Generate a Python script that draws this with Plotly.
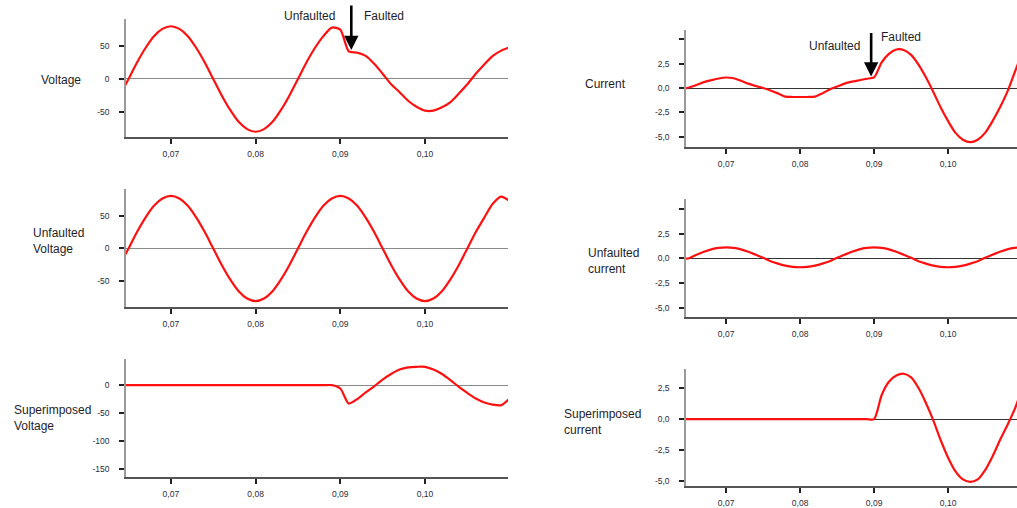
import plotly.graph_objects as go

# Time base (s), 1 ms samples
time_s = [0.0645, 0.065, 0.066, 0.067, 0.068, 0.069, 0.070, 0.071, 0.072, 0.073,
          0.074, 0.075, 0.076, 0.077, 0.078, 0.079, 0.080, 0.081, 0.082, 0.083,
          0.084, 0.085, 0.086, 0.087, 0.088, 0.089, 0.090, 0.091, 0.092, 0.093,
          0.094, 0.095, 0.096, 0.097, 0.098, 0.099, 0.100, 0.101, 0.102, 0.103,
          0.104, 0.105, 0.106, 0.107, 0.108, 0.109, 0.110]

voltage = [-12, 0, 25, 47, 65, 76, 80, 76, 65, 47,
           25, 0, -25, -47, -65, -76, -80, -76, -65, -47,
           -25, 0, 25, 47, 65, 78, 75, 42, 40, 35,
           23, 8, -8, -20, -33, -42, -48, -48, -43, -35,
           -22, -8, 8, 22, 35, 43, 48]

unfaulted_voltage = [-12, 0, 25, 47, 65, 76, 80, 76, 65, 47,
                     25, 0, -25, -47, -65, -76, -80, -76, -65, -47,
                     -25, 0, 25, 47, 65, 76, 80, 76, 65, 47,
                     25, 0, -25, -47, -65, -76, -80, -76, -65, -47,
                     -25, 0, 25, 47, 68, 79, 72]

superimposed_voltage = [0, 0, 0, 0, 0, 0, 0, 0, 0, 0,
                        0, 0, 0, 0, 0, 0, 0, 0, 0, 0,
                        0, 0, 0, 0, 0, 0, -6, -33, -25, -13,
                        -2, 10, 20, 28, 32, 33, 33, 28, 20, 9,
                        -3, -14, -24, -31, -35, -36, -24]

current = [-0.05, 0.05, 0.3, 0.6, 0.8, 0.98, 1.08, 1.0, 0.75, 0.45,
           0.2, 0.0, -0.25, -0.55, -0.88, -0.92, -0.92, -0.92, -0.88, -0.55,
           -0.15, 0.15, 0.45, 0.65, 0.8, 0.95, 1.1, 2.6, 3.5, 3.95,
           3.9, 3.4, 2.4, 1.1, -0.4, -2.0, -3.4, -4.6, -5.3, -5.55,
           -5.3, -4.6, -3.4, -2.0, -0.4, 1.6, 3.6]

unfaulted_current = [-0.05, 0.0, 0.35, 0.65, 0.9, 1.05, 1.1, 1.05, 0.9, 0.65,
                     0.35, 0.05, -0.3, -0.55, -0.75, -0.88, -0.92, -0.88, -0.75, -0.55,
                     -0.3, 0.05, 0.35, 0.65, 0.9, 1.05, 1.1, 1.05, 0.9, 0.65,
                     0.35, 0.05, -0.3, -0.55, -0.75, -0.88, -0.92, -0.88, -0.75, -0.55,
                     -0.3, 0.05, 0.35, 0.65, 0.9, 1.05, 1.1]

superimposed_current = [0, 0, 0, 0, 0, 0, 0, 0, 0, 0,
                        0, 0, 0, 0, 0, 0, 0, 0, 0, 0,
                        0, 0, 0, 0, 0, 0, 0, 1.9, 3.0, 3.5,
                        3.65, 3.35, 2.5, 1.3, -0.1, -1.7, -3.1, -4.2, -4.85, -5.05,
                        -4.85, -4.1, -3.0, -1.7, -0.5, 0.8, 2.5]

# Axis ticks and labels
x_tickvals = [0.07, 0.08, 0.09, 0.10]
x_ticktext = ["0,07", "0,08", "0,09", "0,10"]
v_tickvals = [50, 0, -50]
v_ticktext = ["50", "0", "-50"]
sv_tickvals = [0, -50, -100, -150]
sv_ticktext = ["0", "-50", "-100", "-150"]
i_tickvals = [5, 2.5, 0, -2.5, -5]
i_ticktext = ["", "2,5", "0,0", "-2,5", "-5,0"]
si_tickvals = [2.5, 0, -2.5, -5]
si_ticktext = ["2,5", "0,0", "-2,5", "-5,0"]

row_labels = ["Voltage", "Unfaulted<br>Voltage", "Superimposed<br>Voltage",
              "Current", "Unfaulted<br>current", "Superimposed<br>current"]

W, H = 1017, 508
FONT = "Liberation Sans, Arial, sans-serif"
RED = "#ff1010"


def px_x(p):
    return p / W


def px_y(p):
    return 1 - p / H


panels = [
    # (series, x-domain px, y-domain px (top, bottom), x range, y range, yticks, ytext, zeroline colour)
    (voltage, (126, 508), (19, 137), (0.0647, 0.1098), (-88, 91), v_tickvals, v_ticktext, "#8a8a8a"),
    (unfaulted_voltage, (126, 508), (189, 307), (0.0647, 0.1098), (-89, 90.5), v_tickvals, v_ticktext, "#8a8a8a"),
    (superimposed_voltage, (126, 508), (359, 477), (0.0647, 0.1098), (-165, 47), sv_tickvals, sv_ticktext, "#8a8a8a"),
    (current, (686, 1017), (30, 147), (0.06458, 0.10931), (-6.05, 5.95), i_tickvals, i_ticktext, "#333333"),
    (unfaulted_current, (686, 1017), (199, 317), (0.06458, 0.10931), (-5.96, 6.0), i_tickvals, i_ticktext, "#333333"),
    (superimposed_current, (686, 1017), (369, 486), (0.06458, 0.10931), (-5.38, 4.03), si_tickvals, si_ticktext, "#333333"),
]

fig = go.Figure()
layout = {}
tickfont = dict(family=FONT, size=8.5, color="#2b2b3a")

for i, (series, xd, yd, xr, yr, ytv, ytt, zc) in enumerate(panels, start=1):
    suffix = "" if i == 1 else str(i)
    fig.add_trace(go.Scatter(
        x=time_s, y=series, mode="lines",
        line=dict(color=RED, width=2.2, shape="spline", smoothing=0.7),
        xaxis="x" + suffix, yaxis="y" + suffix,
        showlegend=False, hoverinfo="skip",
    ))
    layout["xaxis" + suffix] = dict(
        domain=[px_x(xd[0]), px_x(xd[1])], range=list(xr), anchor="y" + suffix,
        showgrid=False, zeroline=False, showline=True, linecolor="#555555", linewidth=1.5,
        ticks="outside", ticklen=5, tickwidth=1.5, tickcolor="#222222",
        tickvals=x_tickvals, ticktext=x_ticktext, tickfont=tickfont,
        ticklabelstandoff=3,
    )
    layout["yaxis" + suffix] = dict(
        domain=[px_y(yd[1]), px_y(yd[0])], range=list(yr), anchor="x" + suffix,
        showgrid=False, zeroline=True, zerolinecolor=zc, zerolinewidth=1.2,
        showline=True, linecolor="#9a9a9a", linewidth=1.5,
        ticks="outside", ticklen=5, tickwidth=1.5, tickcolor="#222222",
        tickvals=ytv, ticktext=ytt, tickfont=tickfont,
        ticklabelstandoff=8,
    )

# Row labels (left edge / vertical centre of each text block, in pixels)
label_pos = [(39, 80), (31, 241), (12, 418), (583, 84), (586, 261), (562, 422)]
annotations = []
for text, (lx, ly) in zip(row_labels, label_pos):
    annotations.append(dict(
        text=text, x=px_x(lx), y=px_y(ly), xref="paper", yref="paper",
        xanchor="left", yanchor="middle", align="left", showarrow=False,
        font=dict(family=FONT, size=12, color="#1e1e2a"),
    ))

# Fault-instant labels
for txt, (lx, ly), anchor in [("Unfaulted", (337, 16), "right"), ("Faulted", (362, 16), "left"),
                              ("Unfaulted", (862, 46), "right"), ("Faulted", (879, 37), "left")]:
    annotations.append(dict(
        text=txt, x=px_x(lx), y=px_y(ly), xref="paper", yref="paper",
        xanchor=anchor, yanchor="middle", showarrow=False,
        font=dict(family=FONT, size=12, color="#1e1e2a"),
    ))

# Arrows pointing at the fault instant
annotations.append(dict(
    x=0.0913, y=44, xref="x", yref="y", text="", showarrow=True,
    ax=0, ay=-46, arrowhead=2, arrowsize=1.1, arrowwidth=2.6, arrowcolor="#000000",
))
annotations.append(dict(
    x=0.0896, y=1.18, xref="x4", yref="y4", text="", showarrow=True,
    ax=0, ay=-45, arrowhead=2, arrowsize=1.1, arrowwidth=2.6, arrowcolor="#000000",
))

fig.update_layout(
    **layout,
    annotations=annotations,
    width=W, height=H, autosize=False,
    margin=dict(l=0, r=0, t=0, b=0),
    paper_bgcolor="white", plot_bgcolor="white",
    font=dict(family=FONT),
)

fig.write_html("out.html")
